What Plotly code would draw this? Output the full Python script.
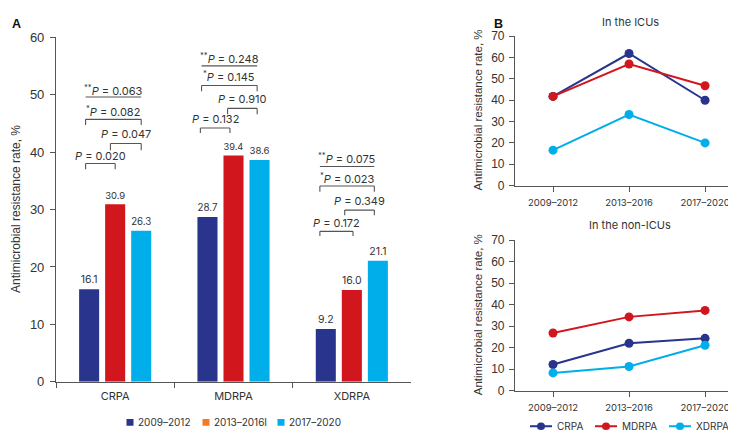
import plotly.graph_objects as go

# ---------------- data ----------------
organisms = ["CRPA", "MDRPA", "XDRPA"]
periods = ["2009–2012", "2013–2016", "2017–2020"]
legend_labels_a = ["2009–2012", "2013–2016I", "2017–2020"]
legend_labels_b = ["CRPA", "MDRPA", "XDRPA"]

rate_2009_2012 = [16.1, 28.7, 9.2]
rate_2013_2016 = [30.9, 39.4, 16.0]
rate_2017_2020 = [26.3, 38.6, 21.1]

# p-values per organism: (period1 vs 2, period2 vs 3, *1 vs 3, **trend)
p_1v2 = ["0.020", "0.132", "0.172"]
p_2v3 = ["0.047", "0.910", "0.349"]
p_1v3 = ["0.082", "0.145", "0.023"]
p_trend = ["0.063", "0.248", "0.075"]

icu_crpa = [41.8, 61.9, 40.0]
icu_mdrpa = [41.8, 57.0, 46.8]
icu_xdrpa = [16.6, 33.3, 20.0]

nonicu_crpa = [12.1, 22.0, 24.3]
nonicu_mdrpa = [26.8, 34.3, 37.3]
nonicu_xdrpa = [8.2, 11.2, 21.1]

# ---------------- styles ----------------
NAVY = "#29348c"
RED = "#d2161e"
CYAN = "#00aeea"
ORANGE = "#f47920"
AX = "#555555"
TXT = "#333333"
TICKFONT = "Liberation Sans, Arial, sans-serif"
FONT = "Inter, Open Sans, sans-serif"

W, H = 736, 433


def px_x(p):
    return p / W


def px_y(p):
    return (H - p) / H


fig = go.Figure()

bar_colors = [NAVY, RED, CYAN]
for vals, col, name in zip([rate_2009_2012, rate_2013_2016, rate_2017_2020], bar_colors, periods):
    fig.add_trace(go.Bar(
        x=organisms, y=vals, name=name, marker_color=col, marker_line_width=0,
        text=[f"{v:.1f}" for v in vals], textposition="outside",
        textfont=dict(size=10.5, color=TXT, family=FONT), cliponaxis=False,
        showlegend=False, xaxis="x", yaxis="y"))

# panel B lines
line_sets = [
    ("CRPA", NAVY, icu_crpa, nonicu_crpa),
    ("MDRPA", RED, icu_mdrpa, nonicu_mdrpa),
    ("XDRPA", CYAN, icu_xdrpa, nonicu_xdrpa),
]
for name, col, icu, non in line_sets:
    for xa, ya, vals in (("x2", "y2", icu), ("x3", "y3", non)):
        fig.add_trace(go.Scatter(
            x=periods, y=vals, mode="lines+markers", name=name,
            line=dict(color=col, width=2), marker=dict(size=9, color=col),
            showlegend=False, xaxis=xa, yaxis=ya, cliponaxis=False))

shapes = []
annotations = []

# ---------------- significance brackets ----------------
# (x offset left, x offset right, line y, leg y, text y) per bracket level
bracket_layout = {
    "CRPA": [(-0.25, 0.0, 38.0, 37.0, 39.3), (-0.04, 0.22, 41.5, 40.3, 43.1),
             (-0.25, 0.22, 45.7, 44.7, 47.1), (-0.25, 0.22, 49.6, None, 50.8)],
    "MDRPA": [(-0.28, -0.03, 44.2, 43.3, 45.8), (-0.05, 0.2, 47.6, 46.6, 49.2),
              (-0.27, 0.2, 51.6, 50.6, 53.2), (-0.27, 0.2, 55.0, None, 56.3)],
    "XDRPA": [(-0.27, 0.01, 26.2, 25.4, 27.6), (-0.06, 0.19, 29.9, 29.0, 31.5),
              (-0.27, 0.19, 34.1, 33.1, 35.4), (-0.27, 0.19, 37.5, None, 38.9)],
}
for i, org in enumerate(organisms):
    labels = [
        f"<i>P</i> = {p_1v2[i]}",
        f"<i>P</i> = {p_2v3[i]}",
        f"<sup>*</sup><i>P</i> = {p_1v3[i]}",
        f"<sup>**</sup><i>P</i> = {p_trend[i]}",
    ]
    for (xl, xr, yl, yb, yt), lab in zip(bracket_layout[org], labels):
        x0, x1 = i + xl, i + xr
        shapes.append(dict(type="line", xref="x", yref="y", x0=x0, x1=x1, y0=yl, y1=yl,
                           line=dict(color=AX, width=1.1)))
        if yb is not None:
            for xx in (x0, x1):
                shapes.append(dict(type="line", xref="x", yref="y", x0=xx, x1=xx, y0=yb, y1=yl,
                                   line=dict(color=AX, width=1.1)))
        annotations.append(dict(xref="x", yref="y", x=(x0 + x1) / 2, y=yt, text=lab,
                                showarrow=False, font=dict(size=11, color=TXT, family=FONT),
                                yanchor="middle", xanchor="center"))

# ---------------- legends (drawn) ----------------
leg_a_x = [122, 198, 273]
for lx, lab, col in zip(leg_a_x, legend_labels_a, [NAVY, ORANGE, CYAN]):
    shapes.append(dict(type="rect", xref="paper", yref="paper",
                       x0=px_x(lx - 3.5), x1=px_x(lx + 3.5), y0=px_y(422 + 3.5), y1=px_y(422 - 3.5),
                       fillcolor=col, line=dict(width=0)))
    annotations.append(dict(xref="paper", yref="paper", x=px_x(lx + 6), y=px_y(422), text=lab,
                            showarrow=False, xanchor="left", yanchor="middle",
                            font=dict(size=10, color=TXT, family=FONT)))

leg_b_x = [533, 598, 672]
LEG_B_Y = 426
for lx, lab, col in zip(leg_b_x, legend_labels_b, [NAVY, RED, CYAN]):
    shapes.append(dict(type="line", xref="paper", yref="paper",
                       x0=px_x(lx - 11), x1=px_x(lx + 11), y0=px_y(LEG_B_Y), y1=px_y(LEG_B_Y),
                       line=dict(color=col, width=2)))
    shapes.append(dict(type="circle", xref="paper", yref="paper",
                       x0=px_x(lx - 4), x1=px_x(lx + 4), y0=px_y(LEG_B_Y + 4), y1=px_y(LEG_B_Y - 4),
                       fillcolor=col, line=dict(width=0)))
    annotations.append(dict(xref="paper", yref="paper", x=px_x(lx + 14), y=px_y(LEG_B_Y), text=lab,
                            showarrow=False, xanchor="left", yanchor="middle",
                            font=dict(size=10, color=TXT, family=FONT)))

# panel letters / titles / axis titles
annotations += [
    dict(xref="paper", yref="paper", x=px_x(2), y=px_y(9), text="<b>A</b>", showarrow=False,
         xanchor="left", yanchor="middle", font=dict(size=12.5, color="#111", family=TICKFONT)),
    dict(xref="paper", yref="paper", x=px_x(484), y=px_y(9), text="<b>B</b>", showarrow=False,
         xanchor="left", yanchor="middle", font=dict(size=12.5, color="#111", family=TICKFONT)),
    dict(xref="paper", yref="paper", x=px_x(622), y=px_y(7), text="In the ICUs", showarrow=False,
         xanchor="center", yanchor="middle", font=dict(size=11, color=TXT, family=FONT)),
    dict(xref="paper", yref="paper", x=px_x(622), y=px_y(218), text="In the non-ICUs", showarrow=False,
         xanchor="center", yanchor="middle", font=dict(size=11, color=TXT, family=FONT)),
    dict(xref="paper", yref="paper", x=px_x(8), y=px_y(201), text="Antimicrobial resistance rate, %",
         textangle=-90, showarrow=False, xanchor="center", yanchor="middle",
         font=dict(size=12, color=TXT, family=TICKFONT)),
    dict(xref="paper", yref="paper", x=px_x(470), y=px_y(99), text="Antimicrobial resistance rate, %",
         textangle=-90, showarrow=False, xanchor="center", yanchor="middle",
         font=dict(size=11.5, color=TXT, family=TICKFONT)),
    dict(xref="paper", yref="paper", x=px_x(470), y=px_y(311), text="Antimicrobial resistance rate, %",
         textangle=-90, showarrow=False, xanchor="center", yanchor="middle",
         font=dict(size=11.5, color=TXT, family=TICKFONT)),
]

axis_common = dict(showline=True, linecolor=AX, linewidth=1.1, ticks="outside", ticklen=5,
                   tickcolor=AX, tickwidth=1.1, showgrid=False, zeroline=False)

fig.update_layout(
    width=W, height=H, margin=dict(l=0, r=0, t=0, b=0),
    paper_bgcolor="white", plot_bgcolor="white",
    font=dict(family=FONT, color=TXT),
    barmode="group", bargap=0.34, bargroupgap=0.23,
    showlegend=False,
    xaxis=dict(domain=[px_x(48), px_x(403)], anchor="y", tickson="boundaries",
               range=[-0.5, 2.5], tickfont=dict(family=FONT, color=TXT, size=11),
               ticklabelstandoff=4, **axis_common),
    yaxis=dict(domain=[px_y(380), px_y(23)], anchor="x", range=[0, 60], dtick=10,
               tickfont=dict(family=TICKFONT, color=TXT, size=13), ticklabelstandoff=3,
               **axis_common),
    xaxis2=dict(domain=[px_x(507), px_x(729)], anchor="y2", range=[-0.5, 2.42],
                tickfont=dict(family=FONT, color=TXT, size=9.5), ticklabelstandoff=3, **axis_common),
    yaxis2=dict(domain=[px_y(176.7), px_y(22)], anchor="x2", range=[0, 70], dtick=10,
                tickfont=dict(family=TICKFONT, color=TXT, size=12), ticklabelstandoff=2, **axis_common),
    xaxis3=dict(domain=[px_x(507), px_x(729)], anchor="y3", range=[-0.5, 2.42],
                tickfont=dict(family=FONT, color=TXT, size=9.5), ticklabelstandoff=3, **axis_common),
    yaxis3=dict(domain=[px_y(389), px_y(233.3)], anchor="x3", range=[0, 70], dtick=10,
                tickfont=dict(family=TICKFONT, color=TXT, size=12), ticklabelstandoff=2, **axis_common),
    shapes=shapes, annotations=annotations,
)

fig.write_html("out.html")
